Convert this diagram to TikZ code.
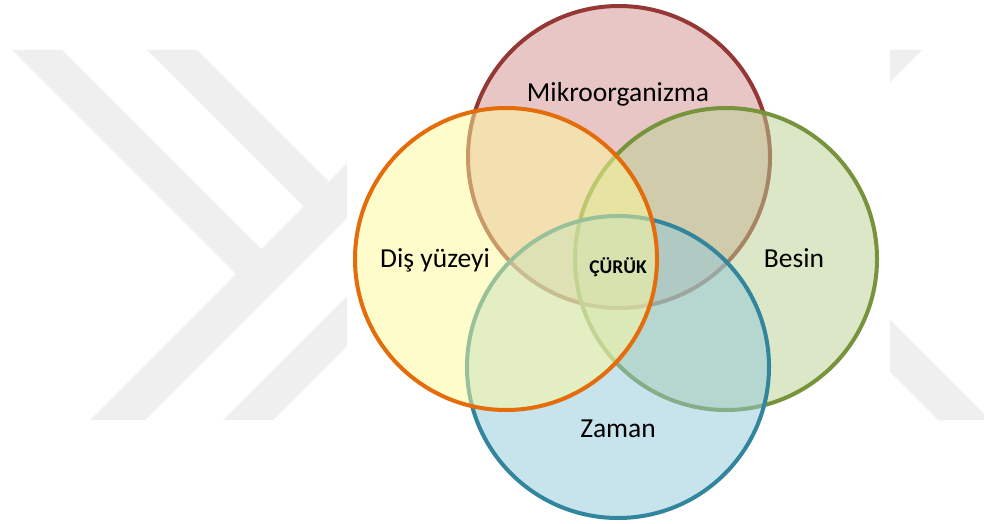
\documentclass[tikz,border=0pt]{standalone}
\usepackage{fontspec}
\setmainfont{Carlito}
\definecolor{wmgray}{RGB}{239,239,239}
\definecolor{redline}{RGB}{149,55,53}
\definecolor{redfill}{RGB}{211,143,143}
\definecolor{greenline}{RGB}{119,147,60}
\definecolor{greenfill}{RGB}{185,209,145}
\definecolor{blueline}{RGB}{49,133,156}
\definecolor{bluefill}{RGB}{145,201,217}
\definecolor{orangeline}{RGB}{228,108,10}
\definecolor{orangefill}{RGB}{255,251,155}
\begin{document}
\begin{tikzpicture}[x=1pt,y=-1pt,
  wm/.style={fill=wmgray, draw=none},
  venn/.style={circle, minimum size=302pt, inner sep=0pt, outer sep=0pt, line width=4pt, fill opacity=0.5},
  lbl/.style={font=\fontsize{27.5}{33}\selectfont, anchor=base, inner sep=0pt},
  boldlbl/.style={font=\fontsize{19.5}{23}\selectfont\bfseries, anchor=base, inner sep=0pt}
]
\useasboundingbox (0,0) rectangle (984,524);
\fill[white] (0,0) rectangle (984,524);
% watermark
\begin{scope}
\clip (0,0) rectangle (984,420);
\fill[wm] (12,50) -- (62,50) -- (261,249) -- (236,274) -- cycle;
\fill[wm] (90,420) -- (145,420) -- (400,165) -- (400,110) -- cycle;
\fill[wm] (147,50) -- (197,50) -- (328.5,181.5) -- (303.5,206.5) -- cycle;
\fill[wm] (223,420) -- (273,420) -- (400,293) -- (400,243) -- cycle;
\fill[wm] (880,50) -- (922,50) -- (880,92) -- cycle;
\fill[wm] (880,310) -- (880,362) -- (938,420) -- (990,420) -- cycle;
\end{scope}
\fill[white] (347,0) rectangle (890,524);
% circles
\node[venn, draw=redline, fill=redfill] (mik) at (619,157) {};
\node[venn, draw=greenline, fill=greenfill] (bes) at (726,259) {};
\node[venn, draw=blueline, fill=bluefill] (zam) at (618,367) {};
\node[venn, draw=orangeline, fill=orangefill] (dis) at (506,259) {};
% labels
\node[lbl] (tmik) at (618,102) {Mikroorganizma};
\node[lbl] (tdis) at (435,267) {Diş yüzeyi};
\node[lbl] (tbes) at (794,267) {Besin};
\node[lbl] (tzam) at (618,437) {Zaman};
\node[boldlbl] (tcur) at (618,273) {ÇÜRÜK};
\end{tikzpicture}
\end{document}
